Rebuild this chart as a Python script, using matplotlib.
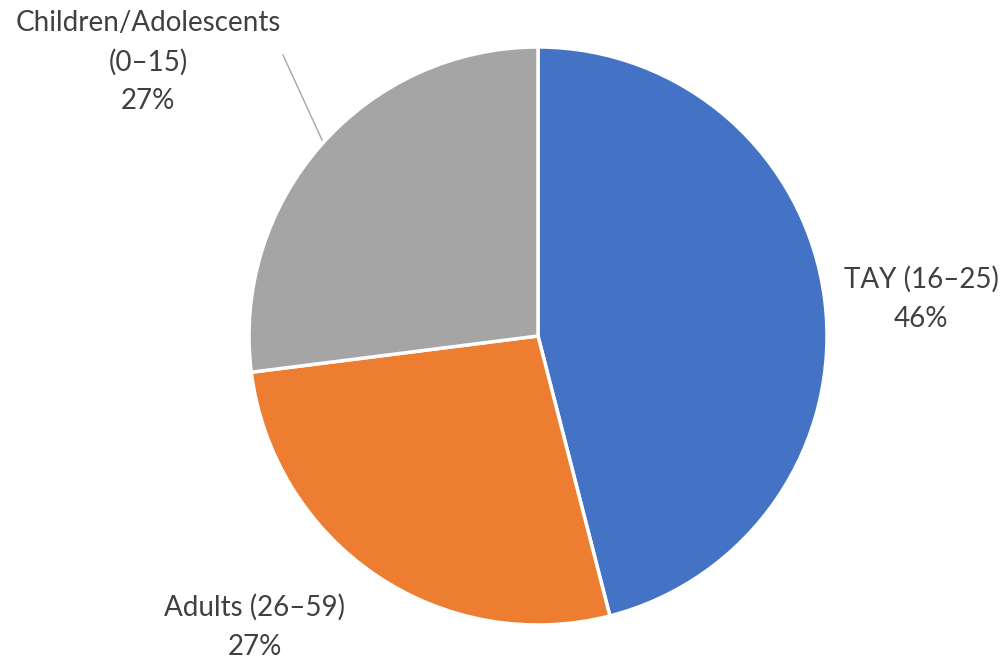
import matplotlib.pyplot as plt

# age group shares
groups = ["TAY (16–25)", "Adults (26–59)", "Children/Adolescents\n(0–15)"]
shares = [46, 27, 27]
colors = ["#4472C4", "#ED7D31", "#A5A5A5"]

W, H = 1007, 661
cx, cy, R = 538, 336, 289


def px(x, y):
    # pixel position -> data coords (pie of radius 1 at origin)
    return (x - cx) / R, (cy - y) / R


fig = plt.figure(figsize=(W / 100, H / 100), dpi=100)
ax = fig.add_axes([0, 0, 1, 1])
ax.pie(shares, colors=colors, startangle=90, counterclock=False,
       radius=1, wedgeprops=dict(edgecolor="white", linewidth=2.5))

ax.set_xlim(px(0, 0)[0], px(W, 0)[0])
ax.set_ylim(px(0, H)[1], px(0, 0)[1])
ax.set_aspect("auto")
ax.axis("off")

font = dict(family="Lato", size=20, color="#404040", ha="center", va="center",
            linespacing=1.6)
label_pos = [(921, 299), (255, 627), (148, 62)]
for name, val, (lx, ly) in zip(groups, shares, label_pos):
    x, y = px(lx, ly)
    ax.text(x, y, f"{name}\n{val}%", **font)

# leader line for the small-angle label
x0, y0 = px(283, 55)
x1, y1 = px(322, 140)
ax.plot([x0, x1], [y0, y1], color="#A6A6A6", linewidth=1)

fig.savefig("out.png", dpi=100, facecolor="white")
